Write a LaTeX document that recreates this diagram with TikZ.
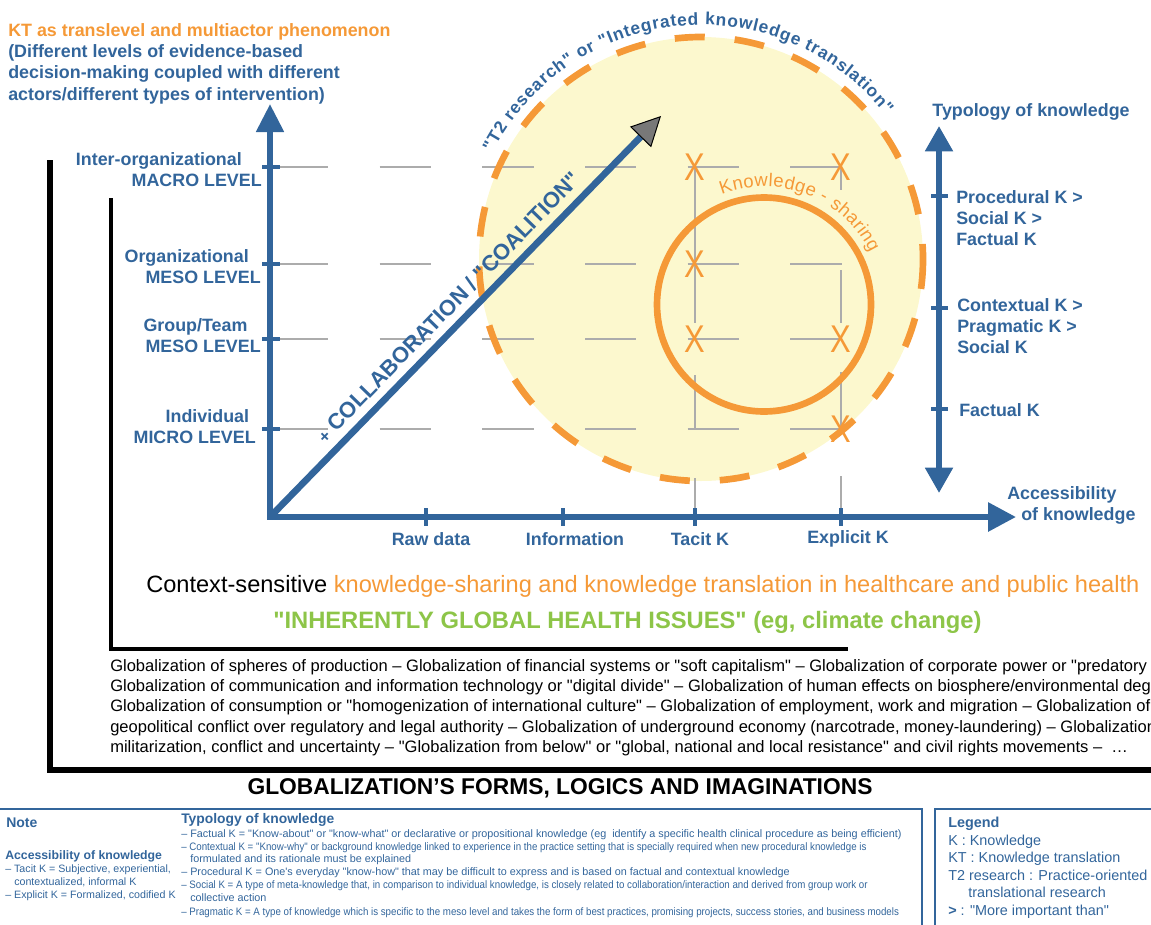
\documentclass[tikz,border=0pt]{standalone}
\usepackage{fontspec}
\setmainfont{Liberation Sans}[Ligatures=TeXOff]
\usepackage{graphicx}
\usetikzlibrary{arrows.meta,decorations.text}

\definecolor{kblue}{RGB}{50,101,155}
\definecolor{korange}{RGB}{245,153,55}
\definecolor{kgreen}{RGB}{141,197,72}
\definecolor{kyellow}{RGB}{252,248,206}
\definecolor{kgrid}{RGB}{172,172,172}
\definecolor{khead}{RGB}{120,120,120}
\newcommand{\condensed}[1]{\scalebox{0.9}[1]{#1}}

\begin{document}
\begin{tikzpicture}[x=0.75pt,y=0.75pt,yscale=-1,xscale=1,
  kaxis/.style={draw=kblue, line width=4.5pt, line join=miter},
  ktick/.style={draw=kblue, line width=3pt},
  kgridline/.style={draw=kgrid, line width=2pt},
  klabel/.style={text=kblue, font=\bfseries\fontsize{13.4}{15.75}\selectfont, inner sep=0.75pt},
  xmark/.style={text=korange, font=\fontsize{29}{29}\selectfont, inner sep=0pt},
  knote/.style={draw=kblue, line width=2pt},
  notetxt/.style={text=kblue, font=\fontsize{8.1}{9.75}\selectfont, inner sep=0pt, anchor=base west},
  legtxt/.style={text=kblue, font=\fontsize{10.8}{13}\selectfont, inner sep=0pt, anchor=base west},
]
\useasboundingbox (0,0) rectangle (1151,924);
\clip (0,0) rectangle (1151,924);

%Shape: Circle (integrated KT)
\fill[kyellow] (701,259) circle [radius=222];

%Straight Lines (grid)
\foreach \y in {167,264,339,429}
  \draw[kgridline, dash pattern=on 38.5pt off 38.5pt] (277,\y) -- (842,\y);
\draw[kgridline] (695,167) -- (695,323) (695,375) -- (695,430) (695,478) -- (695,517);
\draw[kgridline] (841,167) -- (841,190) (841,270) -- (841,323) (841,372) -- (841,430) (841,476) -- (841,517);

%Shape: Circle (knowledge-sharing)
\draw[korange, line width=5pt] (764,304.5) circle [radius=107];
%Shape: Circle (dashed)
\draw[korange, line width=5pt, dash pattern=on 22.5pt off 22.5pt] (701,259) circle [radius=222];

%Curved text
\begin{scope}[shift={(701,259)}, yscale=-1]
\path[decorate, decoration={text along path, text align=fit to path,
  text={|\bfseries\fontsize{13}{14}\selectfont\color{kblue}|"T2 research" or "Integrated knowledge translation"}}]
  (153:234) arc [start angle=153, end angle=38, radius=234];
\end{scope}
\begin{scope}[shift={(764,304.5)}, yscale=-1]
\path[decorate, decoration={text along path, text align=fit to path,
  text={|\fontsize{13.8}{14}\selectfont\color{korange}|Knowledge - sharing}}]
  (111:118) arc [start angle=111, end angle=26, radius=118];
\end{scope}

% X marks
\foreach \x/\y [count=\i] in {695/167,841/167,695/264,695/339,841/339,841/429}
  \node[xmark] (x\i) at (\x,\y) {\scalebox{0.8}[1]{X}};

%Black frames
\draw[line width=5pt, line join=miter] (50,160) -- (50,770) -- (1160,770);
\draw[line width=3.5pt, line join=miter] (111,198) -- (111,649) -- (848,649);

%Axes
\coordinate (O) at (270,517);
\coordinate (ytop) at (270,104);
\coordinate (xend) at (1016,517);
\coordinate (dtip) at (661,116);
\coordinate (ttop) at (939,126);
\coordinate (tbot) at (939,493);
\draw[kaxis, {Triangle[length=21pt,width=20pt]}-{Triangle[length=21pt,width=21pt]}] (ytop) -- (O) -- (xend);
\draw[kaxis, {Triangle[length=19pt,width=20pt]}-{Triangle[length=19pt,width=20pt]}] (ttop) -- (tbot);
\foreach \y in {167,264,339,429}
  \draw[ktick] (262,\y) -- (280,\y);
\foreach \x in {426,563,695,841}
  \draw[ktick] (\x,508) -- (\x,526);
\foreach \y in {196,308,409}
  \draw[ktick] (931,\y) -- (948,\y);

%Diagonal arrow
\draw[draw=kblue, line width=5pt, -{Triangle[length=22pt,width=22pt,color=black,fill=khead,line width=0.75pt]}] (O) -- (dtip);
% Text Node
\node[rotate=45.8, text=kblue, inner sep=0.75pt, font=\bfseries\fontsize{16.5}{16.5}\selectfont] (collab) at (448,307)
  {{\fontsize{13}{13}\selectfont+} COLLABORATION / "COALITION"};

% Text Node
\node[anchor=north west, align=left, inner sep=0pt, text=kblue, font=\bfseries\fontsize{13.4}{16}\selectfont] (kt) at (8,23)
  {\textcolor{korange}{KT as translevel and multiactor phenomenon}\\(Different levels of evidence-based\\decision-making coupled with different\\actors/different types of intervention)};
% Text Node
\node[klabel, anchor=east, align=right] (macro) at (263,170) {Inter-organizational\hspace*{15pt}\\MACRO LEVEL};
% Text Node
\node[klabel, anchor=east, align=right] (orgmeso) at (262,267) {Organizational\hspace*{9pt}\\MESO LEVEL};
% Text Node
\node[klabel, anchor=east, align=right] (grpmeso) at (262,336) {Group/Team\hspace*{10pt}\\MESO LEVEL};
% Text Node
\node[klabel, anchor=east, align=right] (micro) at (257,427) {Individual\hspace*{5pt}\\MICRO LEVEL};
% Text Node
\node[klabel] (raw) at (431,539) {Raw data};
% Text Node
\node[klabel] (info) at (575,539) {Information};
% Text Node
\node[klabel] (tacit) at (700,539) {Tacit K};
% Text Node
\node[klabel] (explicit) at (848,539) {Explicit K};
% Text Node
\node[klabel] (typtitle) at (1031,112) {Typology of knowledge};
% Text Node
\node[klabel, anchor=west, align=left] (access) at (1006,505) {Accessibility\\\hspace*{10.5pt}of knowledge};
% Text Node
\node[klabel, anchor=west, align=left] (tproc) at (955,218) {Procedural K >\\Social K >\\Factual K};
% Text Node
\node[klabel, anchor=west, align=left] (tcont) at (956,326) {Contextual K >\\Pragmatic K >\\Social K};
% Text Node
\node[klabel, anchor=west] (tfact) at (958,410) {Factual K};

% Text Node
\node[anchor=west, inner sep=0pt, font=\fontsize{17.7}{20}\selectfont] (context) at (146,586)
  {Context-sensitive \textcolor{korange}{knowledge-sharing and knowledge translation in healthcare and public health}};
% Text Node
\node[anchor=west, inner sep=0pt, text=kgreen, font=\bfseries\fontsize{17.8}{20}\selectfont] (issues) at (273,622)
  {"INHERENTLY GLOBAL HEALTH ISSUES" (eg, climate change)};
% Text Node
\node[anchor=north west, align=left, inner sep=0pt, font=\fontsize{12.4}{15.2}\selectfont] (forms) at (110,659)
  {Globalization of spheres of production – Globalization of financial systems or "soft capitalism" – Globalization of corporate power or "predatory capitalism"\\
   Globalization of communication and information technology or "digital divide" – Globalization of human effects on biosphere/environmental degradation\\
   Globalization of consumption or "homogenization of international culture" – Globalization of employment, work and migration – Globalization of state power\\
   geopolitical conflict over regulatory and legal authority – Globalization of underground economy (narcotrade, money-laundering) – Globalization of\\
   militarization, conflict and uncertainty – "Globalization from below" or "global, national and local resistance" and civil rights movements –\ \ …};
% Text Node
\node[inner sep=0pt, font=\bfseries\fontsize{17.1}{18}\selectfont] (gtitle) at (560,788) {GLOBALIZATION’S FORMS, LOGICS AND IMAGINATIONS};

%Note boxes
\draw[knote] (-10,809) -- (922,809) -- (922,940);
\draw[knote] (935,940) -- (935,809) -- (1160,809);

% Text Node
\node[notetxt, font=\bfseries\fontsize{10.5}{12}\selectfont] (note) at (6,827) {Note};
\node[notetxt, font=\bfseries\fontsize{9.2}{10}\selectfont] (acchead) at (5,859) {Accessibility of knowledge};
\node[notetxt, font=\fontsize{8}{10}\selectfont] (tacitn) at (5,872) {– Tacit K = Subjective, experiential,};
\node[notetxt, font=\fontsize{8}{10}\selectfont] (tacitn2) at (14,885) {contextualized, informal K};
\node[notetxt, font=\fontsize{8}{10}\selectfont] (explin) at (5,898) {– Explicit K = Formalized, codified K};
\node[notetxt, font=\bfseries\fontsize{10.4}{11}\selectfont] (typhead) at (181,823) {Typology of knowledge};
\node[notetxt] (n1) at (181,837) {– Factual K = "Know-about" or "know-what" or declarative or propositional knowledge (eg\ \ identify a specific health clinical procedure as being efficient)};
\node[notetxt] (n2) at (181,850) {\condensed{– Contextual K = "Know-why" or background knowledge linked to experience in the practice setting that is specially required when new procedural knowledge is}};
\node[notetxt] (n3) at (190,862) {formulated and its rationale must be explained};
\node[notetxt] (n4) at (181,875) {– Procedural K = One's everyday "know-how" that may be difficult to express and is based on factual and contextual knowledge};
\node[notetxt] (n5) at (181,888) {\condensed{– Social K = A type of meta-knowledge that, in comparison to individual knowledge, is closely related to collaboration/interaction and derived from group work or}};
\node[notetxt] (n6) at (190,901) {collective action};
\node[notetxt] (n7) at (181,915) {\condensed{– Pragmatic K = A type of knowledge which is specific to the meso level and takes the form of best practices, promising projects, success stories, and business models}};

% Text Node
\node[legtxt, font=\bfseries\fontsize{10.8}{13}\selectfont] (leg) at (948,827) {Legend};
\node[legtxt] (leg1) at (948,845) {K : Knowledge};
\node[legtxt] (leg2) at (948,862) {KT : Knowledge translation};
\node[legtxt] (leg3) at (948,880) {T2 research : Practice-oriented};
\node[legtxt] (leg4) at (968,897) {translational research};
\node[legtxt] (leg5) at (948,915) {\textbf{>} : "More important than"};

\end{tikzpicture}
\end{document}
